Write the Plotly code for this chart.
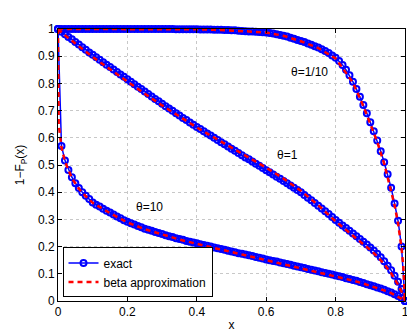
import plotly.graph_objects as go

# sampling grid of the exact curves
x = [0.00, 0.01, 0.02, 0.03, 0.04, 0.05, 0.06, 0.07, 0.08, 0.09,
     0.10, 0.11, 0.12, 0.13, 0.14, 0.15, 0.16, 0.17, 0.18, 0.19,
     0.20, 0.21, 0.22, 0.23, 0.24, 0.25, 0.26, 0.27, 0.28, 0.29,
     0.30, 0.31, 0.32, 0.33, 0.34, 0.35, 0.36, 0.37, 0.38, 0.39,
     0.40, 0.41, 0.42, 0.43, 0.44, 0.45, 0.46, 0.47, 0.48, 0.49,
     0.50, 0.51, 0.52, 0.53, 0.54, 0.55, 0.56, 0.57, 0.58, 0.59,
     0.60, 0.61, 0.62, 0.63, 0.64, 0.65, 0.66, 0.67, 0.68, 0.69,
     0.70, 0.71, 0.72, 0.73, 0.74, 0.75, 0.76, 0.77, 0.78, 0.79,
     0.80, 0.81, 0.82, 0.83, 0.84, 0.85, 0.86, 0.87, 0.88, 0.89,
     0.90, 0.91, 0.92, 0.93, 0.94, 0.95, 0.96, 0.97, 0.98, 0.99, 1.00]

# exact, theta = 1/10
exact_01 = [1.000, 1.000, 1.000, 1.000, 1.000, 1.000, 1.000, 1.000, 1.000, 1.000,
            1.000, 1.000, 1.000, 1.000, 1.000, 1.000, 1.000, 1.000, 1.000, 1.000,
            1.000, 1.000, 1.000, 1.000, 1.000, 1.000, 1.000, 1.000, 1.000, 1.000,
            1.000, 1.000, 1.000, 1.000, 0.999, 0.999, 0.999, 0.999, 0.999, 0.999,
            0.999, 0.998, 0.998, 0.998, 0.998, 0.997, 0.997, 0.997, 0.996, 0.996,
            0.995, 0.995, 0.994, 0.993, 0.992, 0.991, 0.991, 0.990, 0.989, 0.988,
            0.987, 0.985, 0.983, 0.981, 0.978, 0.975, 0.972, 0.968, 0.964, 0.960,
            0.956, 0.952, 0.947, 0.942, 0.937, 0.932, 0.926, 0.919, 0.912, 0.903,
            0.894, 0.882, 0.868, 0.850, 0.830, 0.806, 0.779, 0.751, 0.721, 0.690,
            0.657, 0.624, 0.590, 0.551, 0.510, 0.466, 0.416, 0.358, 0.295, 0.200, 0.000]

# exact, theta = 1
exact_1 = [1.000, 0.990, 0.981, 0.971, 0.962, 0.952, 0.943, 0.933, 0.924, 0.914,
           0.905, 0.896, 0.887, 0.878, 0.869, 0.860, 0.851, 0.842, 0.833, 0.824,
           0.815, 0.806, 0.797, 0.788, 0.779, 0.770, 0.761, 0.752, 0.743, 0.734,
           0.725, 0.716, 0.708, 0.699, 0.690, 0.682, 0.673, 0.665, 0.656, 0.648,
           0.640, 0.632, 0.624, 0.616, 0.608, 0.600, 0.592, 0.584, 0.576, 0.568,
           0.560, 0.552, 0.544, 0.536, 0.528, 0.521, 0.513, 0.505, 0.497, 0.489,
           0.481, 0.473, 0.465, 0.457, 0.449, 0.441, 0.433, 0.425, 0.416, 0.408,
           0.400, 0.390, 0.380, 0.370, 0.360, 0.350, 0.340, 0.330, 0.320, 0.309,
           0.298, 0.288, 0.278, 0.268, 0.258, 0.248, 0.238, 0.228, 0.218, 0.208,
           0.197, 0.186, 0.174, 0.161, 0.146, 0.130, 0.113, 0.093, 0.071, 0.044, 0.000]

# exact, theta = 10
exact_10 = [1.000, 0.570, 0.517, 0.482, 0.455, 0.433, 0.415, 0.400, 0.387, 0.375,
            0.362, 0.354, 0.347, 0.339, 0.332, 0.325, 0.318, 0.311, 0.304, 0.297,
            0.291, 0.286, 0.281, 0.276, 0.271, 0.266, 0.262, 0.258, 0.254, 0.250,
            0.246, 0.242, 0.238, 0.235, 0.231, 0.228, 0.225, 0.221, 0.218, 0.215,
            0.212, 0.209, 0.206, 0.203, 0.200, 0.197, 0.194, 0.191, 0.188, 0.185,
            0.182, 0.179, 0.176, 0.174, 0.171, 0.168, 0.165, 0.162, 0.159, 0.156,
            0.153, 0.150, 0.147, 0.145, 0.142, 0.139, 0.136, 0.133, 0.130, 0.127,
            0.124, 0.121, 0.118, 0.115, 0.112, 0.109, 0.106, 0.103, 0.100, 0.097,
            0.094, 0.091, 0.088, 0.084, 0.081, 0.077, 0.074, 0.070, 0.066, 0.062,
            0.058, 0.054, 0.050, 0.046, 0.041, 0.036, 0.031, 0.025, 0.018, 0.011, 0.000]

# beta approximation
x_beta = [0, 0.002, 0.01, 0.02, 0.04, 0.06, 0.08, 0.1, 0.15, 0.2, 0.25, 0.3, 0.35,
          0.4, 0.45, 0.5, 0.55, 0.6, 0.65, 0.7, 0.75, 0.8, 0.85, 0.88, 0.9, 0.92,
          0.94, 0.96, 0.97, 0.98, 0.99, 0.995, 1.0]
beta_01 = [1.0, 1.0, 1.0, 1.0, 1.0, 1.0, 1.0, 1.0, 1.0, 1.0, 1.0, 1.0, 0.999,
           0.999, 0.997, 0.995, 0.991, 0.987, 0.975, 0.955, 0.930, 0.892, 0.803, 0.717, 0.652, 0.585,
           0.505, 0.410, 0.352, 0.285, 0.195, 0.130, 0.0]
beta_1 = [1.0, 0.997, 0.988, 0.977, 0.956, 0.936, 0.917, 0.897, 0.851, 0.806, 0.762, 0.719, 0.677,
          0.638, 0.601, 0.564, 0.528, 0.490, 0.450, 0.405, 0.352, 0.293, 0.240, 0.210, 0.188, 0.164,
          0.136, 0.102, 0.083, 0.060, 0.035, 0.020, 0.0]
beta_10 = [1.0, 0.650, 0.565, 0.513, 0.452, 0.413, 0.385, 0.361, 0.323, 0.289, 0.264, 0.244, 0.226,
           0.210, 0.195, 0.180, 0.166, 0.151, 0.137, 0.122, 0.107, 0.092, 0.075, 0.064, 0.056, 0.048,
           0.039, 0.029, 0.023, 0.016, 0.009, 0.005, 0.0]

labels = ["θ=1/10", "θ=1", "θ=10"]
label_pos = [(0.725, 0.842), (0.66, 0.537), (0.265, 0.346)]

fig = go.Figure()

for i, ys in enumerate([exact_01, exact_1, exact_10]):
    fig.add_trace(go.Scatter(
        x=x, y=ys, mode="lines+markers", name="exact",
        legendgroup="exact", showlegend=(i == 0), cliponaxis=False,
        line=dict(color="blue", width=1.5),
        marker=dict(symbol="circle-open", size=6, color="blue", line=dict(width=2)),
    ))

for i, ys in enumerate([beta_01, beta_1, beta_10]):
    fig.add_trace(go.Scatter(
        x=x_beta, y=ys, mode="lines", name="beta approximation",
        legendgroup="beta", showlegend=(i == 0), cliponaxis=False,
        line=dict(color="red", width=2.5, dash="5px,4px"),
    ))

for txt, (ax, ay) in zip(labels, label_pos):
    fig.add_annotation(x=ax, y=ay, text=txt, showarrow=False,
                       font=dict(size=12, color="black"))

axis_style = dict(
    showline=True, linecolor="black", linewidth=1, mirror="ticks",
    ticks="inside", ticklen=4, tickcolor="black",
    showgrid=True, gridcolor="#c8c8c8", griddash="dot", gridwidth=1,
    zeroline=False, tickfont=dict(size=12, color="black"),
)

fig.update_xaxes(range=[0, 1], tickvals=[0, 0.2, 0.4, 0.6, 0.8, 1],
                 ticktext=["0", "0.2", "0.4", "0.6", "0.8", "1"],
                 title=dict(text="x", font=dict(size=12, color="black"), standoff=2),
                 **axis_style)
fig.update_yaxes(range=[0, 1], tickvals=[0, 0.1, 0.2, 0.3, 0.4, 0.5, 0.6, 0.7, 0.8, 0.9, 1],
                 ticktext=["0", "0.1", "0.2", "0.3", "0.4", "0.5", "0.6", "0.7", "0.8", "0.9", "1"],
                 title=dict(text="1−F<sub>P</sub>(x)", font=dict(size=12, color="black"), standoff=10),
                 **axis_style)

# page body adds an 8px offset, so the figure is 8px smaller than the window
fig.update_layout(
    width=407, height=327,
    margin=dict(l=50, r=10, t=21, b=34, autoexpand=False),
    paper_bgcolor="white", plot_bgcolor="white",
    font=dict(family="Liberation Sans, Arial, sans-serif", size=12, color="black"),
    legend=dict(x=0.013, y=0.013, xanchor="left", yanchor="bottom",
                bgcolor="white", bordercolor="black", borderwidth=1,
                font=dict(size=12), itemwidth=30, tracegroupgap=0),
)

fig.write_html("out.html")
